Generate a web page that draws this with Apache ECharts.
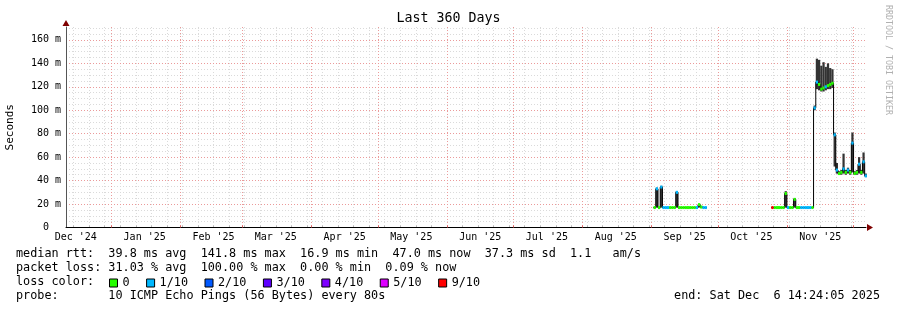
<!DOCTYPE html>
<html>
<head>
<meta charset="utf-8">
<title>Last 360 Days</title>
<script src="https://cdn.jsdelivr.net/npm/echarts@6/dist/echarts.min.js"></script>
<style>
  html, body { margin: 0; padding: 0; background: #fff; }
  #chart { width: 897px; height: 310px; }
</style>
</head>
<body>
<div id="chart"></div>
<script>
const DAY = 24 * 3600 * 1000;
const MONO = "'DejaVu Sans Mono', monospace";

// graph window: 360 days up to the last update
const endTime = new Date(2025, 11, 6, 14, 24, 5).getTime();
const startTime = endTime - 360 * DAY;

// month grid lines and their labels (label sits half a month after the line)
const monthStarts = [
  '2024-12-01', '2025-01-01', '2025-02-01', '2025-03-01', '2025-04-01', '2025-05-01', '2025-06-01',
  '2025-07-01', '2025-08-01', '2025-09-01', '2025-10-01', '2025-11-01', '2025-12-01'
];
const monthLabels = [
  "Dec '24", "Jan '25", "Feb '25", "Mar '25", "Apr '25", "May '25", "Jun '25",
  "Jul '25", "Aug '25", "Sep '25", "Oct '25", "Nov '25", "Dec '25"
];
const firstSunday = '2024-12-15';

// y axis (ms)
const yMax = 171;
const yTicks = [0, 20, 40, 60, 80, 100, 120, 140, 160];
const yTickLabels = ['0  ', '20 m', '40 m', '60 m', '80 m', '100 m', '120 m', '140 m', '160 m'];

// loss colour classes
const lossNames = ['0', '1/10', '2/10', '3/10', '4/10', '5/10', '9/10'];
const lossColors = ['#26ff00', '#00b8ff', '#0059ff', '#5e00ff', '#7e00ff', '#dd00ff', '#ff0000'];

// one sample per day, starting Sep 1 2025
const sampleStart = '2025-09-01';
const medianRtt = [
  null, 17, 33, 17, 34.5, 17, 17, 17, 17, 17,
  17, 30, 17, 17, 17, 17, 17, 17, 17, 17,
  17, 19.5, 17.5, 17, 17, null, null, null, null, null,
  null, null, null, null, null, null, null, null, null, null,
  null, null, null, null, null, null, null, null, null, null,
  null, null, null, null, 17, 17, 17, 17, 17, 17,
  29, 17, 17, 17, 24, 17, 17, 17, 17, 17,
  17, 17, 17, 102, 124, 122, 118, 119, 120, 121,
  122, 123, 79, 49, 46, 47, 50, 47, 49, 47,
  72, 46, 47, 54, 47, 56, 44
];
// index into lossNames
const lossLevel = [
  null, 0, 1, 0, 1, 1, 1, 1, 0, 0,
  0, 1, 0, 0, 0, 0, 0, 0, 0, 0,
  1, 0, 0, 1, 1, null, null, null, null, null,
  null, null, null, null, null, null, null, null, null, null,
  null, null, null, null, null, null, null, null, null, null,
  null, null, null, null, 6, 0, 0, 0, 0, 0,
  0, 1, 0, 0, 0, 0, 0, 1, 1, 1,
  1, 1, 0, 1, 1, 0, 0, 0, 1, 0,
  0, 0, 1, 1, 0, 0, 1, 0, 1, 0,
  1, 0, 0, 1, 0, 1, 1
];
const smokeLow = [
  null, 16.5, 17, 16.5, 17, 16.5, 16.5, 16.5, 16.5, 16.5,
  16.5, 17, 16.5, 16.5, 16.5, 16.5, 16.5, 16.5, 16.5, 16.5,
  16.5, 17, 16.5, 16.5, 16.5, null, null, null, null, null,
  null, null, null, null, null, null, null, null, null, null,
  null, null, null, null, null, null, null, null, null, null,
  null, null, null, null, 16.5, 16.5, 16.5, 16.5, 16.5, 16.5,
  17, 16.5, 16.5, 16.5, 17, 16.5, 16.5, 16.5, 16.5, 16.5,
  16.5, 16.5, 16.5, 100, 118, 117, 116, 116, 117, 118,
  118, 119, 52, 46, 45, 45, 46, 45, 46, 45,
  47, 45, 45, 46, 45, 46, 43
];
const smokeHigh = [
  null, 17.5, 34, 17.5, 35.5, 17.5, 17.5, 17.5, 17.5, 17.5,
  17.5, 31, 17.5, 17.5, 17.5, 17.5, 17.5, 17.5, 17.5, 17.5,
  17.5, 20, 18, 17.5, 17.5, null, null, null, null, null,
  null, null, null, null, null, null, null, null, null, null,
  null, null, null, null, null, null, null, null, null, null,
  null, null, null, null, 17.5, 17.5, 17.5, 17.5, 17.5, 17.5,
  31, 17.5, 17.5, 17.5, 25, 17.5, 17.5, 17.5, 17.5, 17.5,
  17.5, 17.5, 17.5, 104, 144, 143, 138, 141, 137, 140,
  136, 135, 81, 55, 48, 49, 63, 49, 51, 49,
  81, 48, 49, 60, 49, 64, 46
];

const statLines = [
  'median rtt:  39.8 ms avg  141.8 ms max  16.9 ms min  47.0 ms now  37.3 ms sd  1.1   am/s',
  'packet loss: 31.03 % avg  100.00 % max  0.00 % min  0.09 % now',
  'loss color:',
  'probe:       10 ICMP Echo Pings (56 Bytes) every 80s'
];
const endLabel = 'end: Sat Dec  6 14:24:05 2025';
const watermark = 'RRDTOOL / TOBI OETIKER';

function localTime(s) {
  return new Date(s + 'T00:00:00').getTime();
}

const monthTimes = monthStarts.map(localTime);
const labelTimes = monthTimes.map(t => t + 15 * DAY);
const weekTimes = [];
for (let t = localTime(firstSunday); t < endTime; t += 7 * DAY) weekTimes.push(t);
const yMinorTicks = [];
for (let v = 0; v <= yMax; v += 5) yMinorTicks.push(v);

const t0 = localTime(sampleStart);
const smokeData = [];
const stepData = [];
const medianByLoss = lossNames.map(() => []);
medianRtt.forEach((v, i) => {
  const a = t0 + i * DAY;
  const b = a + DAY;
  if (v == null) {
    stepData.push([a + DAY / 2, null]);
    return;
  }
  smokeData.push([a, b, smokeLow[i], smokeHigh[i]]);
  stepData.push([a + DAY / 2, v]);
  medianByLoss[lossLevel[i]].push([a, b, v]);
});

function renderSmoke(params, api) {
  const p = api.coord([api.value(0), api.value(3)]);
  const q = api.coord([api.value(1), api.value(2)]);
  return {
    type: 'rect',
    shape: { x: p[0], y: p[1], width: q[0] - p[0], height: Math.max(q[1] - p[1], 1) },
    style: { fill: '#333' }
  };
}

function renderMedian(params, api) {
  const p = api.coord([api.value(0), api.value(2)]);
  const q = api.coord([api.value(1), api.value(2)]);
  return {
    type: 'rect',
    shape: { x: p[0], y: p[1] - 1.5, width: q[0] - p[0], height: 3 },
    style: { fill: api.visual('color') }
  };
}

const chart = echarts.init(document.getElementById('chart'), null, { renderer: 'canvas' });

const series = [
  {
    name: 'smoke',
    type: 'custom',
    xAxisIndex: 1,
    yAxisIndex: 1,
    renderItem: renderSmoke,
    encode: { x: [0, 1], y: [2, 3] },
    data: smokeData,
    z: 2
  },
  {
    name: 'median',
    type: 'line',
    xAxisIndex: 1,
    yAxisIndex: 1,
    step: 'middle',
    showSymbol: false,
    connectNulls: false,
    lineStyle: { color: '#000', width: 1 },
    data: stepData,
    z: 3
  }
];
lossNames.forEach((name, k) => {
  series.push({
    name: name,
    type: 'custom',
    xAxisIndex: 1,
    yAxisIndex: 1,
    renderItem: renderMedian,
    encode: { x: [0, 1], y: 2 },
    itemStyle: { color: lossColors[k] },
    data: medianByLoss[k],
    z: 4
  });
});

chart.setOption({
  animation: false,
  backgroundColor: '#fff',
  title: {
    text: 'Last 360 Days',
    left: 'center',
    top: 12,
    padding: 0,
    textStyle: { fontFamily: MONO, fontSize: 13.3, fontWeight: 'normal', color: '#000' }
  },
  grid: { left: 66, top: 27, width: 800, height: 200.5, outerBoundsMode: 'none' },
  legend: {
    data: lossNames,
    left: 109,
    top: 277,
    padding: 0,
    icon: 'rect',
    itemWidth: 8,
    itemHeight: 8,
    itemGap: 16.5,
    selectedMode: false,
    itemStyle: { borderColor: '#000', borderWidth: 1 },
    textStyle: { fontFamily: MONO, fontSize: 11.8, color: '#000' }
  },
  xAxis: [
    {
      type: 'value',
      min: startTime,
      max: endTime,
      position: 'bottom',
      z: 0,
      axisLine: {
        show: true,
        onZero: false,
        symbol: ['none', 'triangle'],
        symbolSize: [7, 6],
        symbolOffset: [0, 4],
        lineStyle: { color: '#7f0000', width: 0 }
      },
      axisTick: { show: true, inside: true, length: 2, customValues: weekTimes, lineStyle: { color: '#b8b8b8' } },
      axisLabel: { show: false },
      splitLine: { show: true, lineStyle: { color: '#dadada', width: 1, type: [1, 2] } }
    },
    {
      type: 'value',
      min: startTime,
      max: endTime,
      position: 'bottom',
      z: 1,
      axisLine: { show: true, onZero: false, lineStyle: { color: '#000', width: 1 } },
      axisTick: { show: true, inside: true, length: 2, customValues: monthTimes, lineStyle: { color: '#e06060' } },
      axisLabel: {
        customValues: labelTimes,
        formatter: v => monthLabels[labelTimes.indexOf(v)],
        fontFamily: MONO,
        fontSize: 10,
        color: '#000',
        margin: 5
      },
      splitLine: { show: true, lineStyle: { color: '#eb9a9a', width: 1, type: [1, 2] } }
    }
  ],
  yAxis: [
    {
      type: 'value',
      min: 0,
      max: yMax,
      position: 'left',
      z: 0,
      axisLine: {
        show: true,
        onZero: false,
        symbol: ['none', 'triangle'],
        symbolSize: [7, 6],
        symbolOffset: [0, 4],
        lineStyle: { color: '#7f0000', width: 0 }
      },
      axisTick: { show: false, customValues: yMinorTicks },
      axisLabel: { show: false },
      splitLine: { show: true, lineStyle: { color: '#dadada', width: 1, type: [1, 2] } }
    },
    {
      type: 'value',
      min: 0,
      max: yMax,
      position: 'left',
      z: 1,
      name: 'Seconds',
      nameLocation: 'middle',
      nameRotate: 90,
      nameGap: 50,
      nameTextStyle: { fontFamily: MONO, fontSize: 11, color: '#000' },
      axisLine: { show: true, onZero: false, lineStyle: { color: '#555', width: 1 } },
      axisTick: { show: false, customValues: yTicks },
      axisLabel: {
        customValues: yTicks,
        formatter: v => yTickLabels[yTicks.indexOf(v)],
        fontFamily: MONO,
        fontSize: 10,
        color: '#000',
        margin: 5
      },
      splitLine: { show: true, lineStyle: { color: '#eb9a9a', width: 1, type: [1, 2] } }
    }
  ],
  graphic: statLines.map((line, i) => ({
    type: 'text',
    x: 16,
    y: 254 + i * 14,
    style: { text: line, fontFamily: MONO, fontSize: 11.8, fill: '#000', align: 'left', verticalAlign: 'middle' }
  })).concat([
    {
      type: 'text',
      x: 880,
      y: 296,
      style: { text: endLabel, fontFamily: MONO, fontSize: 11.8, fill: '#000', align: 'right', verticalAlign: 'middle' }
    },
    {
      type: 'text',
      x: 888,
      y: 5,
      rotation: -Math.PI / 2,
      style: { text: watermark, fontFamily: MONO, fontSize: 8.3, fill: '#b0b0b0', align: 'left', verticalAlign: 'middle' }
    }
  ]),
  series: series
});
</script>
</body>
</html>
